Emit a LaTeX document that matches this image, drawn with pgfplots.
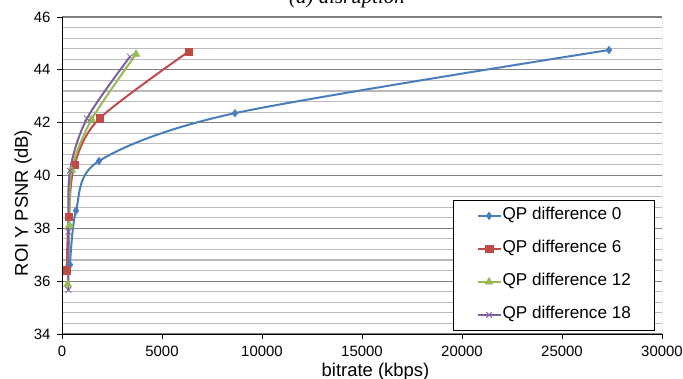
\documentclass[border=0pt]{standalone}
\usepackage{fontspec}
\setmainfont{Liberation Sans}
\newfontfamily\titlefont{Liberation Serif}
\usepackage{pgfplots}
\pgfplotsset{compat=1.18}
\definecolor{cblue}{HTML}{4A7EBB}
\definecolor{cred}{HTML}{BE4B48}
\definecolor{cgreen}{HTML}{98B954}
\definecolor{cpurple}{HTML}{7D60A0}
\begin{document}
\begin{tikzpicture}
\begin{axis}[
  at={(62bp,45bp)}, anchor=south west,
  scale only axis, width=600bp, height=317bp,
  xmin=0, xmax=30000, ymin=34, ymax=46,
  xtick={0,5000,...,30000}, ytick={34,36,...,46},
  minor y tick num=4,
  axis lines*=left,
  axis line style={black, line width=0.8bp, -},
  tick align=outside, major tick length=5bp, minor tick length=0pt,
  tick style={black, line width=0.8bp},
  ymajorgrids, yminorgrids,
  major grid style={color=black!50, line width=1.1bp},
  minor grid style={color=black!27, line width=1.1bp},
  scaled ticks=false,
  /pgf/number format/1000 sep={},
  /pgf/number format/assume math mode=true,
  ticklabel style={font=\fontsize{15}{18}\selectfont},
  xticklabel style={yshift=-4bp},
  yticklabel style={xshift=-3bp},
  xlabel={bitrate (kbps)},
  ylabel={ROI Y PSNR (dB)},
  label style={font=\fontsize{18.5}{22}\selectfont},
  xlabel style={at={(axis description cs:0.5225,-0.118)}, anchor=center},
  ylabel style={at={(axis description cs:-0.065,0.413)}, anchor=center},
  legend cell align=left,
  legend style={at={(axis description cs:0.652,0.4227)}, anchor=north west,
    draw=black, line width=0.8bp, fill=white,
    font=\fontsize{17.2}{20}\selectfont,
    inner xsep=23bp, inner ysep=6bp, row sep=14bp,
    nodes={inner sep=1bp, text height=12.5bp, text depth=4.5bp}},
  legend image code/.code={\draw[mark repeat=2,mark phase=2] plot coordinates {(0bp,0bp)(11.5bp,0bp)(23bp,0bp)};},
]
\addplot[cblue, line width=2bp, smooth, mark=diamond*, mark size=3.8bp, mark options={fill=cblue, line width=0.5bp}]
  coordinates {(400,36.62) (700,38.67) (1850,40.55) (8650,42.36) (27350,44.75)};
\addlegendentry{QP difference 0}
\addplot[cred, line width=2bp, smooth, mark=square*, mark size=3.8bp, mark options={fill=cred, line width=0.5bp}]
  coordinates {(230,36.42) (335,38.44) (630,40.41) (1880,42.16) (6330,44.69)};
\addlegendentry{QP difference 6}
\addplot[cgreen, line width=2bp, smooth, mark=triangle*, mark size=4.5bp, mark options={fill=cgreen, line width=0.5bp}]
  coordinates {(283,35.88) (370,38.12) (480,40.2) (1480,42.12) (3700,44.59)};
\addlegendentry{QP difference 12}
\addplot[cpurple, line width=2bp, smooth, mark=x, mark size=4bp, mark options={line width=0.8bp}]
  coordinates {(317,35.67) (320,37.87) (400,40.18) (1250,42.16) (3400,44.5)};
\addlegendentry{QP difference 18}
\draw[black!45, line width=1bp] (rel axis cs:1,0) -- (rel axis cs:1,1);
\end{axis}
\node[anchor=base, font=\titlefont\itshape\fontsize{21}{24}\selectfont] at (347bp,375bp) {(a) disruption};
\pgfresetboundingbox
\path[use as bounding box] (0,0) rectangle (683bp,379bp);
\end{tikzpicture}
\end{document}
